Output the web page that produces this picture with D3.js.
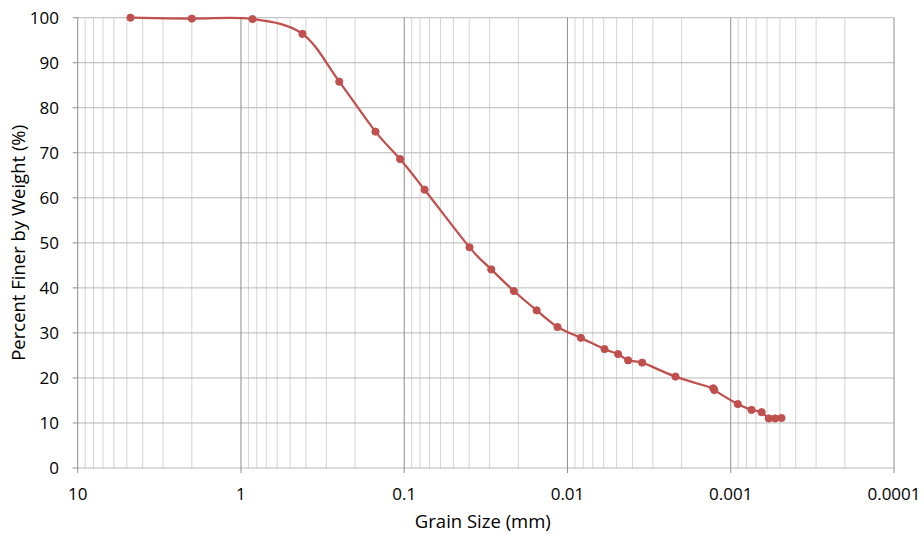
<!DOCTYPE html>
<html>
<head>
<meta charset="utf-8">
<script src="https://cdn.jsdelivr.net/npm/d3@7"></script>
<style>
  html, body { margin: 0; padding: 0; background: #fff; }
  svg { display: block; font-family: "Open Sans", Lato, "Liberation Sans", sans-serif; }
</style>
</head>
<body>
<svg id="chart" width="924" height="535"></svg>
<script>
// Grain size distribution (sieve + hydrometer)
const grainSize = [4.75, 2.0, 0.85, 0.42, 0.25, 0.15, 0.106, 0.075,
  0.0398, 0.0293, 0.0213, 0.01545, 0.01151, 0.00828, 0.00593, 0.0049,
  0.00425, 0.00349, 0.00218, 0.00128, 0.00126, 0.000906, 0.000746,
  0.000647, 0.000585, 0.000535, 0.000489];
const percentFiner = [100, 99.8, 99.7, 96.4, 85.8, 74.7, 68.6, 61.8,
  49.0, 44.1, 39.3, 35.0, 31.3, 28.9, 26.4, 25.3,
  23.9, 23.4, 20.3, 17.7, 17.3, 14.2, 12.9,
  12.4, 11.0, 11.0, 11.1];
const xTickValues = [10, 1, 0.1, 0.01, 0.001, 0.0001];
const xTickLabels = ["10", "1", "0.1", "0.01", "0.001", "0.0001"];
const yTickValues = [0, 10, 20, 30, 40, 50, 60, 70, 80, 90, 100];

const svg = d3.select("#chart");
const margin = { left: 77.7, right: 924 - 894, top: 17.7, bottom: 535 - 468 };
const W = 924, H = 535;
const tickFont = 17;
const titleFont = 18.5;

const x = d3.scaleLog().domain([10, 0.0001]).range([margin.left, W - margin.right]);
const y = d3.scaleLinear().domain([0, 100]).range([H - margin.bottom, margin.top]);

const g = svg.append("g");

// minor vertical gridlines (2..9 within each decade)
const minor = [];
for (let e = -4; e < 1; e++) {
  for (let k = 2; k <= 9; k++) minor.push(k * Math.pow(10, e));
}
g.selectAll("line.minor").data(minor).join("line")
  .attr("class", "minor")
  .attr("x1", d => x(d)).attr("x2", d => x(d))
  .attr("y1", y(0)).attr("y2", y(100))
  .attr("stroke", "#d4d4d4").attr("stroke-width", 1);

// horizontal gridlines
g.selectAll("line.hgrid").data(yTickValues).join("line")
  .attr("class", "hgrid")
  .attr("x1", x(10)).attr("x2", x(0.0001))
  .attr("y1", d => y(d)).attr("y2", d => y(d))
  .attr("stroke", "#b8b8b8").attr("stroke-width", 1);

// major (decade) vertical gridlines with small ticks below the axis
g.selectAll("line.major").data(xTickValues).join("line")
  .attr("class", "major")
  .attr("x1", d => x(d)).attr("x2", d => x(d))
  .attr("y1", y(100)).attr("y2", y(0) + 5)
  .attr("stroke", "#8e8e8e").attr("stroke-width", 1);

// y tick marks
g.selectAll("line.ytick").data(yTickValues).join("line")
  .attr("class", "ytick")
  .attr("x1", x(10) - 5).attr("x2", x(10))
  .attr("y1", d => y(d)).attr("y2", d => y(d))
  .attr("stroke", "#8e8e8e").attr("stroke-width", 1);

// y tick labels
g.selectAll("text.ylab").data(yTickValues).join("text")
  .attr("class", "ylab")
  .attr("x", 59).attr("y", d => y(d))
  .attr("dy", "0.36em")
  .attr("text-anchor", "end")
  .attr("font-size", tickFont).attr("fill", "#000")
  .text(d => d);

// x tick labels
g.selectAll("text.xlab").data(xTickValues).join("text")
  .attr("class", "xlab")
  .attr("x", d => x(d)).attr("y", 500)
  .attr("text-anchor", "middle")
  .attr("font-size", tickFont).attr("fill", "#000")
  .text((d, i) => xTickLabels[i]);

// axis titles
svg.append("text")
  .attr("x", (x(10) + x(0.0001)) / 2 - 3).attr("y", 528)
  .attr("text-anchor", "middle")
  .attr("font-size", titleFont).attr("fill", "#000")
  .text("Grain Size (mm)");

svg.append("text")
  .attr("transform", `translate(25, ${(y(0) + y(100)) / 2}) rotate(-90)`)
  .attr("text-anchor", "middle")
  .attr("font-size", titleFont).attr("fill", "#000")
  .text("Percent Finer by Weight (%)");

// gradation curve
const pts = grainSize.map((d, i) => [d, percentFiner[i]]);
const line = d3.line()
  .x(d => x(d[0])).y(d => y(d[1]))
  .curve(d3.curveCardinal.tension(0));

g.append("path")
  .datum(pts)
  .attr("d", line)
  .attr("fill", "none")
  .attr("stroke", "#c0504d")
  .attr("stroke-width", 2.25);

g.selectAll("circle.pt").data(pts).join("circle")
  .attr("class", "pt")
  .attr("cx", d => x(d[0])).attr("cy", d => y(d[1]))
  .attr("r", 3.6)
  .attr("fill", "#c0504d")
  .attr("stroke", "#c0504d").attr("stroke-width", 1);
</script>
</body>
</html>
